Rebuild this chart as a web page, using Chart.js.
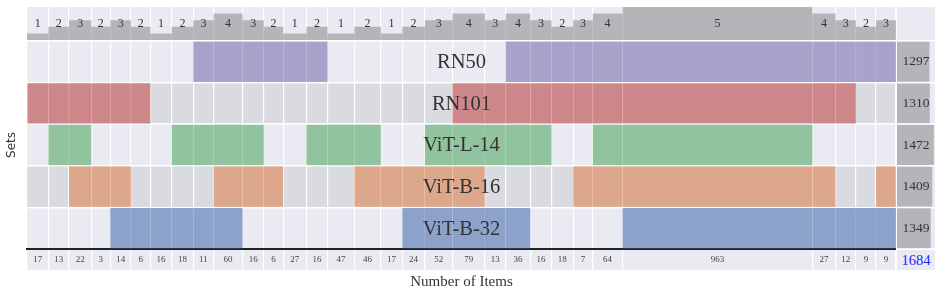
<!DOCTYPE html>
<html>
<head>
<meta charset="utf-8">
<script src="https://cdn.jsdelivr.net/npm/chart.js@4.4.1/dist/chart.umd.min.js"></script>
<style>
  html, body { margin: 0; padding: 0; background: #fff; }
  #fig { position: relative; width: 942px; height: 297px; overflow: hidden; }
  .box { position: absolute; }
  .cell { position: absolute; background: #eaeaf2; }
  #total { color: rgb(30, 30, 255); font: 14.5px 'Liberation Serif', serif; text-align: center; line-height: 20px; }
</style>
</head>
<body>
<div id="fig">
  <div class="box" style="left:27px;top:7px;width:869px;height:33px"><canvas id="degreeChart"></canvas></div>
  <div class="cell" style="left:897px;top:7px;width:38px;height:33px"></div>
  <div class="box" style="left:0;top:40px;width:896px;height:211px"><canvas id="matrixChart"></canvas></div>
  <div class="box" style="left:897px;top:40px;width:38px;height:211px"><canvas id="sizeChart"></canvas></div>
  <div class="box" style="left:27px;top:250px;width:869px;height:47px"><canvas id="countChart"></canvas></div>
  <div class="cell" id="total" style="left:897px;top:250px;width:38px;height:20px"></div>
</div>
<script>
const setNames = ['RN50', 'RN101', 'ViT-L-14', 'ViT-B-16', 'ViT-B-32'];
const setSizes = [1297, 1310, 1472, 1409, 1349];
const setColors = ['#8172b3', '#c44e52', '#55a868', '#dd8452', '#4c72b0'];

// one entry per intersection column, left to right
const itemCounts = [17, 13, 22, 3, 14, 6, 16, 18, 11, 60, 16, 6, 27, 16, 47, 46, 17, 24, 52, 79, 13, 36, 16, 18, 7, 64, 963, 27, 12, 9, 9];
const degrees = [1, 2, 3, 2, 3, 2, 1, 2, 3, 4, 3, 2, 1, 2, 1, 2, 1, 2, 3, 4, 3, 4, 3, 2, 3, 4, 5, 4, 3, 2, 3];

// which sets take part in each column (rows follow setNames)
const membership = [
  [0,0,0,0,0,0,0,0,1,1,1,1,1,1,0,0,0,0,0,0,0,1,1,1,1,1,1,1,1,1,1],
  [1,1,1,1,1,1,0,0,0,0,0,0,0,0,0,0,0,0,0,1,1,1,1,1,1,1,1,1,1,0,0],
  [0,1,1,0,0,0,0,1,1,1,1,0,0,1,1,1,0,0,1,1,1,1,1,0,0,1,1,0,0,0,0],
  [0,0,1,1,1,0,0,0,0,1,1,1,0,0,0,1,1,1,1,1,0,0,0,0,1,1,1,1,0,0,1],
  [0,0,0,0,1,1,1,1,1,1,0,0,0,0,0,0,0,1,1,1,1,1,0,0,0,0,1,1,1,1,1]
];

// column width = item count + pad, so the tiny columns stay readable
const COL_PAD = 103;
const colStart = [], colEnd = [];
let acc = 0;
itemCounts.forEach(n => { colStart.push(acc); acc += n + COL_PAD; colEnd.push(acc); });
const TOTAL = acc;
const colMid = colStart.map((s, i) => (s + colEnd[i]) / 2);

document.getElementById('total').textContent = itemCounts.reduce((a, b) => a + b, 0);

Chart.defaults.font.family = "'Liberation Serif', serif";
Chart.defaults.color = '#333';
Chart.defaults.animation = false;

const LIGHT = '#eaeaf2';
const DARK = '#dadbe0';

const fade = (hex, a) => {
  const n = parseInt(hex.slice(1), 16);
  return `rgba(${n >> 16}, ${(n >> 8) & 255}, ${n & 255}, ${a})`;
};

const edgeScale = extra => Object.assign({
  type: 'linear', min: 0, max: TOTAL,
  afterBuildTicks: s => { s.ticks = [...colStart, TOTAL].map(v => ({ value: v })); },
  ticks: { display: false },
  grid: { color: '#fff', lineWidth: 1.2, drawTicks: false },
  border: { display: false }
}, extra);

const hiddenRows = {
  type: 'category', offset: true,
  ticks: { display: false },
  grid: { color: '#fff', lineWidth: 1.5, drawTicks: false, offset: true },
  border: { display: false }
};

// background of the plot area, striped per row when a y category axis is given
const paintBg = colors => ({
  id: 'paintBg',
  beforeDraw(chart) {
    const { ctx, chartArea: a } = chart;
    ctx.save();
    if (colors.length === 1) {
      ctx.fillStyle = colors[0];
      ctx.fillRect(a.left, a.top, a.width, a.height);
    } else {
      const y = chart.scales.y;
      const half = a.height / colors.length / 2;
      colors.forEach((c, i) => {
        const py = y.getPixelForValue(i);
        ctx.fillStyle = c;
        ctx.fillRect(a.left, py - half, a.width, half * 2);
      });
    }
    ctx.restore();
  }
});

const textLayer = (font, color, place) => ({
  id: 'textLayer',
  afterDatasetsDraw(chart) {
    const { ctx } = chart;
    ctx.save();
    ctx.font = font;
    ctx.fillStyle = color;
    ctx.textAlign = 'center';
    ctx.textBaseline = 'middle';
    place(chart).forEach(t => ctx.fillText(t.text, t.x, t.y));
    ctx.restore();
  }
});

const base = { responsive: true, maintainAspectRatio: false, plugins: { legend: { display: false }, tooltip: { enabled: false } } };

// degree histogram on top
new Chart(document.getElementById('degreeChart'), {
  type: 'line',
  data: {
    datasets: [{
      data: [...colStart.map((s, i) => ({ x: s, y: degrees[i] })), { x: TOTAL, y: degrees[degrees.length - 1] }],
      stepped: true,
      fill: 'origin',
      backgroundColor: 'rgba(128, 128, 128, 0.5)',
      borderColor: 'transparent',
      borderWidth: 0,
      pointRadius: 0
    }]
  },
  options: {
    ...base,
    scales: {
      x: edgeScale({}),
      y: { min: 0, max: 5, display: false }
    }
  },
  plugins: [
    paintBg([LIGHT]),
    textLayer('12px "Liberation Serif", serif', '#333', chart => {
      const a = chart.chartArea;
      return degrees.map((d, i) => ({ text: d, x: chart.scales.x.getPixelForValue(colMid[i]), y: (a.top + a.bottom) / 2 }));
    })
  ]
});

// membership matrix
new Chart(document.getElementById('matrixChart'), {
  type: 'bar',
  data: {
    labels: setNames,
    datasets: setNames.map((name, s) => ({
      label: name,
      data: membership[s].map((m, c) => m ? { x: [colStart[c], colEnd[c]], y: name } : null).filter(Boolean),
      backgroundColor: fade(setColors[s], 0.6),
      borderWidth: 0,
      grouped: false,
      barPercentage: 0.97,
      categoryPercentage: 1
    }))
  },
  options: {
    ...base,
    indexAxis: 'y',
    layout: { padding: { top: 1, bottom: 2 } },
    scales: {
      x: edgeScale({ border: { display: true, color: '#222', width: 2 } }),
      y: {
        ...hiddenRows,
        title: { display: true, text: 'Sets', color: '#333', font: { family: "'DejaVu Sans', sans-serif", size: 12 }, padding: { top: 4.8, bottom: 7.8 } }
      }
    }
  },
  plugins: [
    paintBg([LIGHT, DARK, LIGHT, DARK, LIGHT]),
    textLayer('20.5px "Liberation Serif", serif', '#333', chart => {
      const a = chart.chartArea;
      return setNames.map((n, i) => ({ text: n, x: (a.left + a.right) / 2, y: chart.scales.y.getPixelForValue(i) + 1 }));
    })
  ]
});

// set sizes on the right
new Chart(document.getElementById('sizeChart'), {
  type: 'bar',
  data: {
    labels: setNames,
    datasets: [{
      data: setSizes,
      backgroundColor: 'rgba(128, 128, 128, 0.5)',
      borderWidth: 0,
      barPercentage: 0.96,
      categoryPercentage: 1
    }]
  },
  options: {
    ...base,
    indexAxis: 'y',
    layout: { padding: { top: 1, bottom: 2 } },
    scales: {
      x: { min: 0, max: 1520, display: false },
      y: hiddenRows
    }
  },
  plugins: [
    paintBg([LIGHT]),
    textLayer('13.5px "Liberation Serif", serif', '#333', chart => {
      const a = chart.chartArea;
      return setSizes.map((v, i) => ({ text: v, x: (a.left + a.right) / 2, y: chart.scales.y.getPixelForValue(i) }));
    })
  ]
});

// item counts under each column
new Chart(document.getElementById('countChart'), {
  type: 'scatter',
  data: { datasets: [] },
  options: {
    ...base,
    scales: {
      x: edgeScale({
        title: { display: true, text: 'Number of Items', color: '#333', font: { size: 15 }, padding: { top: 3, bottom: 6 } }
      }),
      y: { display: false }
    }
  },
  plugins: [
    paintBg([LIGHT]),
    textLayer('9px "Liberation Serif", serif', '#444', chart => {
      const a = chart.chartArea;
      return itemCounts.map((n, i) => ({ text: n, x: chart.scales.x.getPixelForValue(colMid[i]), y: (a.top + a.bottom) / 2 }));
    })
  ]
});
</script>
</body>
</html>
